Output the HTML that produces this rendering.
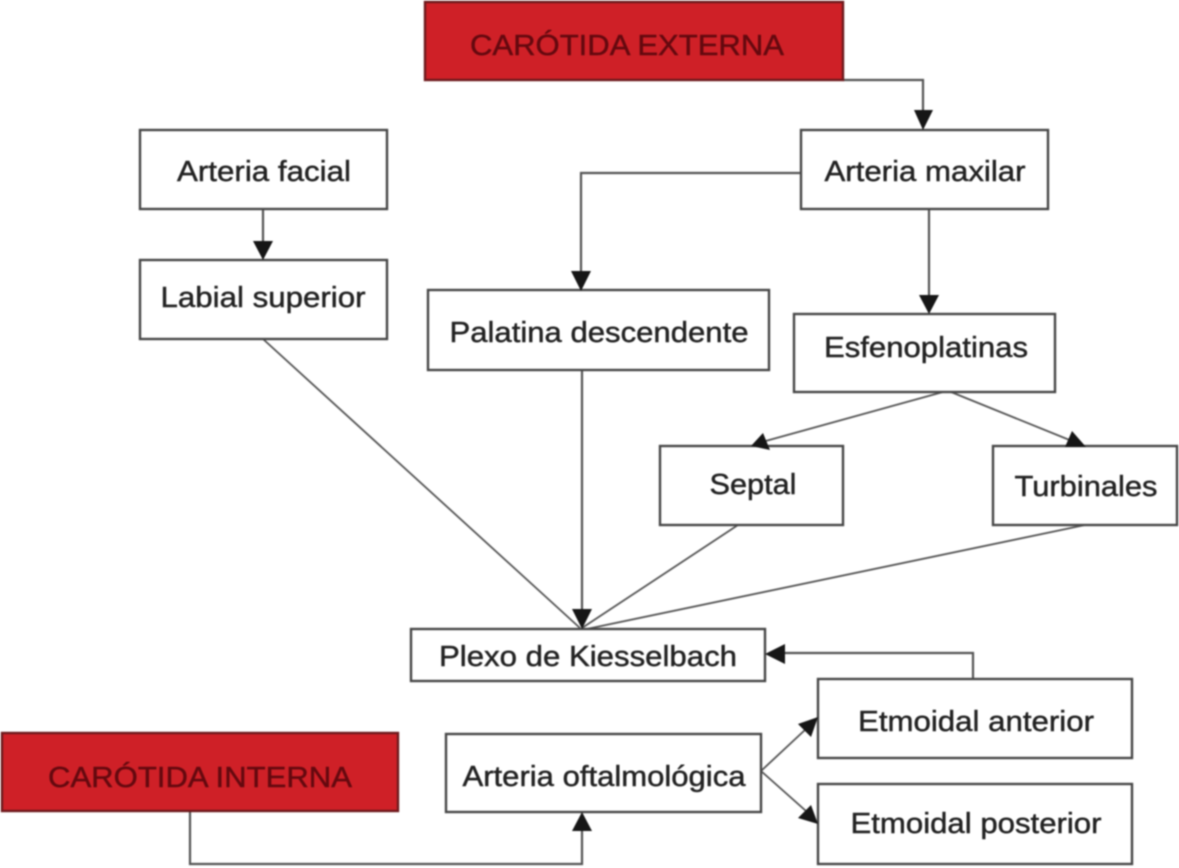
<!DOCTYPE html>
<html><head><meta charset="utf-8"><style>
html,body{margin:0;padding:0;background:#fff}
svg{display:block;filter:blur(.7px)}
text{font-family:"Liberation Sans",sans-serif;font-size:29px;fill:#222;stroke:#222;stroke-width:.45px;text-anchor:middle}
.b{fill:#fff;stroke:#484848;stroke-width:2.4}
.r{fill:#cf2027;stroke:#6e1a1d;stroke-width:2.4}
.l{fill:none;stroke:#555;stroke-width:2.2}
.t{fill:none;stroke:#555;stroke-width:1.8}
.a{fill:#161616}
text.d{fill:#64090f;stroke:#64090f;font-size:29px}
</style></head><body>
<svg width="1179" height="868" viewBox="0 0 1179 868" xmlns="http://www.w3.org/2000/svg">
<rect width="1179" height="868" fill="#fff"/>
<path class="l" d="M843 80H923V112"/>
<path class="l" d="M801 173H581V272"/>
<path class="l" d="M929 209V296"/>
<path class="l" d="M263 209V242"/>
<path class="t" d="M263 339L580 628"/>
<path class="l" d="M582 370V610"/>
<path class="t" d="M738 525L582 628"/>
<path class="t" d="M1085 525L582 630"/>
<path class="t" d="M943 392L762 442"/>
<path class="t" d="M951 392L1072 441"/>
<path class="l" d="M973 679V653H782"/>
<path class="l" d="M190 811V864H582V828"/>
<path class="t" d="M761 771L806 729"/>
<path class="t" d="M761 771L806 811"/>
<rect class="r" x="425" y="2" width="418" height="78"/>
<rect class="r" x="2" y="733" width="396" height="78"/>
<rect class="b" x="140" y="130" width="247" height="79"/>
<rect class="b" x="140" y="260" width="247" height="79"/>
<rect class="b" x="801" y="130" width="247" height="79"/>
<rect class="b" x="428" y="290" width="341" height="80"/>
<rect class="b" x="794" y="314" width="261" height="78"/>
<rect class="b" x="660" y="446" width="183" height="79"/>
<rect class="b" x="993" y="446" width="184" height="79"/>
<rect class="b" x="411" y="629" width="354" height="52"/>
<rect class="b" x="446" y="734" width="315" height="78"/>
<rect class="b" x="818" y="679" width="314" height="79"/>
<rect class="b" x="818" y="784" width="314" height="80"/>
<polygon class="a" points="914,110 933,110 923,130"/>
<polygon class="a" points="571,271 591,271 581,291"/>
<polygon class="a" points="919,295 939,295 929,314"/>
<polygon class="a" points="253,241 273,241 263,260"/>
<polygon class="a" points="572,609 592,609 582,629"/>
<polygon class="a" points="763,433 770,450 751,446"/>
<polygon class="a" points="1072,431 1086,447 1065,447"/>
<polygon class="a" points="785,644 785,664 765,654"/>
<polygon class="a" points="572,831 592,831 582,812"/>
<polygon class="a" points="798,724 818,717 811,737"/>
<polygon class="a" points="798,818 811,805 818,824"/>
<text class="d" x="627" y="55" textLength="314" lengthAdjust="spacingAndGlyphs">CARÓTIDA EXTERNA</text>
<text class="d" x="200" y="787" textLength="304" lengthAdjust="spacingAndGlyphs">CARÓTIDA INTERNA</text>
<text x="264" y="181" textLength="174" lengthAdjust="spacingAndGlyphs">Arteria facial</text>
<text x="263" y="307" textLength="205" lengthAdjust="spacingAndGlyphs">Labial superior</text>
<text x="925" y="181" textLength="201" lengthAdjust="spacingAndGlyphs">Arteria maxilar</text>
<text x="599" y="342" textLength="299" lengthAdjust="spacingAndGlyphs">Palatina descendente</text>
<text x="926" y="357" textLength="204" lengthAdjust="spacingAndGlyphs">Esfenoplatinas</text>
<text x="753" y="494" textLength="87" lengthAdjust="spacingAndGlyphs">Septal</text>
<text x="1086" y="496" textLength="143" lengthAdjust="spacingAndGlyphs">Turbinales</text>
<text x="588" y="666" textLength="298" lengthAdjust="spacingAndGlyphs">Plexo de Kiesselbach</text>
<text x="604" y="786" textLength="283" lengthAdjust="spacingAndGlyphs">Arteria oftalmológica</text>
<text x="976" y="731" textLength="236" lengthAdjust="spacingAndGlyphs">Etmoidal anterior</text>
<text x="976" y="833" textLength="251" lengthAdjust="spacingAndGlyphs">Etmoidal posterior</text>
</svg>
</body></html>
